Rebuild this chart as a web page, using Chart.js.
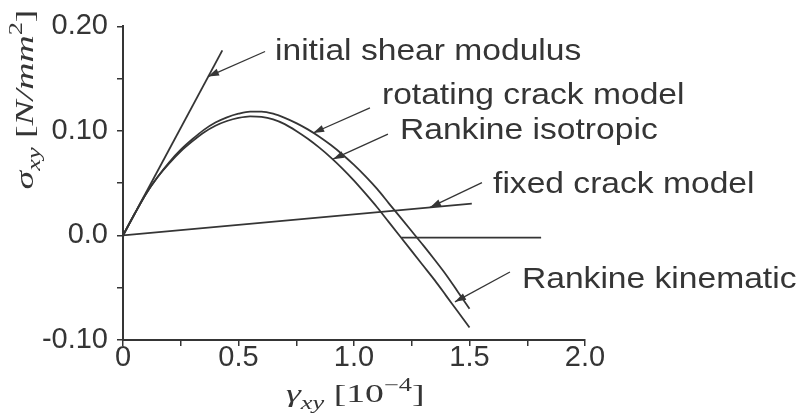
<!DOCTYPE html>
<html>
<head>
<meta charset="utf-8">
<script src="https://cdn.jsdelivr.net/npm/chart.js@4.4.1/dist/chart.umd.min.js"></script>
<style>
  html, body { margin: 0; padding: 0; background: #ffffff; }
  #wrap { width: 804px; height: 415px; }
</style>
</head>
<body>
<div id="wrap"><canvas id="c" width="804" height="415"></canvas></div>
<script>
// Shear stress sigma_xy [N/mm^2] against shear strain gamma_xy [1e-4]

// initial shear modulus (tangent at the origin)
const initialX = [0, 0.43];
const initialY = [0, 0.177];

// strain stations shared by the two softening curves
const strainX = [0, 0.05, 0.10, 0.15, 0.20, 0.25, 0.30, 0.35, 0.40, 0.45, 0.50,
                 0.55, 0.60, 0.65, 0.70, 0.75, 0.80, 0.85, 0.90, 0.95, 1.00,
                 1.05, 1.10, 1.15, 1.20, 1.25, 1.30, 1.35, 1.40, 1.45, 1.50];

// rotating crack model / Rankine kinematic (upper softening curve)
const rotatingY = [0, 0.0205, 0.040, 0.056, 0.070, 0.082, 0.092, 0.101, 0.108, 0.113, 0.1165,
                   0.1185, 0.1185, 0.1165, 0.1125, 0.1075, 0.1015, 0.0945, 0.0865, 0.0775, 0.0675,
                   0.0565, 0.0445, 0.031, 0.0175, 0.004, -0.0095, -0.0235, -0.038, -0.054, -0.070];

// Rankine isotropic (lower softening curve)
const isotropicY = [0, 0.0205, 0.040, 0.056, 0.069, 0.0805, 0.090, 0.0985, 0.105, 0.1095, 0.1125,
                    0.114, 0.1135, 0.111, 0.1065, 0.100, 0.0925, 0.084, 0.0745, 0.064, 0.0525,
                    0.040, 0.027, 0.013, -0.001, -0.015, -0.029, -0.043, -0.058, -0.073, -0.088];

// fixed crack model
const fixedX = [0, 1.51];
const fixedY = [0, 0.0305];

// residual branch at zero stress
const residualX = [1.205, 1.81];
const residualY = [-0.002, -0.002];

// axis ticks
const xTickValues = [0, 0.5, 1.0, 1.5, 2.0];
const xTickLabels = ['0', '0.5', '1.0', '1.5', '2.0'];
const yTickValues = [-0.10, 0, 0.10, 0.20];
const yTickLabels = ['-0.10', '0.0', '0.10', '0.20'];

// callouts: label anchor (baseline start), arrow tail and arrow tip, in data units
const callouts = [
  { text: 'initial shear modulus', at: [0.658, 0.1676], tail: [0.615, 0.176], tip: [0.368, 0.152] },
  { text: 'rotating crack model',  at: [1.121, 0.1257], tail: [1.069, 0.122], tip: [0.823, 0.098] },
  { text: 'Rankine isotropic',     at: [1.199, 0.0924], tail: [1.147, 0.097], tip: [0.909, 0.073] },
  { text: 'fixed crack model',     at: [1.602, 0.041],  tail: [1.554, 0.0505], tip: [1.329, 0.0268] },
  { text: 'Rankine kinematic',     at: [1.727, -0.0505], tail: [1.675, -0.035], tip: [1.437, -0.0635] }
];

const INK = '#353535';
const SANS = '"Liberation Sans", Arial, Helvetica, sans-serif';
const SERIF = '"Liberation Serif", "Times New Roman", serif';

function pairs(xs, ys) { return xs.map((x, i) => ({ x: x, y: ys[i] })); }
function series(xs, ys, smooth) {
  return {
    data: pairs(xs, ys),
    borderColor: INK,
    borderWidth: 1.8,
    pointRadius: 0,
    fill: false,
    cubicInterpolationMode: smooth ? 'monotone' : 'default',
    tension: 0
  };
}
function labelFor(values, labels, v) {
  const i = values.findIndex(t => Math.abs(t - v) < 1e-9);
  return i >= 0 ? labels[i] : '';
}

// draws a run of text pieces (italic / sub / sup) along +x from the origin, baseline at 0
function drawRuns(ctx, runs, size, stretch) {
  let x = 0;
  ctx.save();
  ctx.scale(stretch, 1);
  for (const r of runs) {
    const s = (r.sub || r.sup) ? size * 0.7 : size;
    ctx.font = (r.italic ? 'italic ' : '') + s + 'px ' + SERIF;
    const dy = r.sub ? size * 0.25 : (r.sup ? -size * 0.42 : 0);
    ctx.fillText(r.t, x, dy);
    x += ctx.measureText(r.t).width;
  }
  ctx.restore();
  return x * stretch;
}

const annotate = {
  id: 'annotate',
  afterDatasetsDraw(chart) {
    const ctx = chart.ctx;
    const xs = chart.scales.x, ys = chart.scales.y;
    const area = chart.chartArea;
    const P = (p) => [xs.getPixelForValue(p[0]), ys.getPixelForValue(p[1])];

    ctx.save();
    ctx.fillStyle = INK;
    ctx.strokeStyle = INK;
    ctx.textBaseline = 'alphabetic';
    ctx.textAlign = 'left';

    for (const c of callouts) {
      const [tx, ty] = P(c.tail);
      const [hx, hy] = P(c.tip);
      // arrow shaft
      ctx.lineWidth = 1.3;
      ctx.beginPath();
      ctx.moveTo(tx, ty);
      ctx.lineTo(hx, hy);
      ctx.stroke();
      // arrow head
      const ang = Math.atan2(hy - ty, hx - tx);
      const L = 11, W = 3.6;
      ctx.beginPath();
      ctx.moveTo(hx, hy);
      ctx.lineTo(hx - L * Math.cos(ang) + W * Math.sin(ang), hy - L * Math.sin(ang) - W * Math.cos(ang));
      ctx.lineTo(hx - L * Math.cos(ang) - W * Math.sin(ang), hy - L * Math.sin(ang) + W * Math.cos(ang));
      ctx.closePath();
      ctx.fill();
      // label
      const [lx, ly] = P(c.at);
      ctx.save();
      ctx.translate(lx, ly);
      ctx.scale(1.12, 1);
      ctx.font = '30px ' + SANS;
      ctx.fillText(c.text, 0, 0);
      ctx.restore();
    }

    // x axis title: gamma_xy [10^-4]
    ctx.save();
    ctx.translate(area.left + 163, area.bottom + 62);
    drawRuns(ctx, [
      { t: 'γ', italic: true },
      { t: 'xy', italic: true, sub: true },
      { t: ' [10' },
      { t: '−4', sup: true },
      { t: ']' }
    ], 26, 1.45);
    ctx.restore();

    // y axis title: sigma_xy [N/mm^2], reading upwards
    ctx.save();
    ctx.translate(area.left - 90, area.top + 163);
    ctx.rotate(-Math.PI / 2);
    drawRuns(ctx, [
      { t: 'σ', italic: true },
      { t: 'xy', italic: true, sub: true },
      { t: ' [' },
      { t: 'N/mm', italic: true },
      { t: '2', sup: true },
      { t: ']' }
    ], 26, 1.45);
    ctx.restore();

    ctx.restore();
  }
};

new Chart(document.getElementById('c'), {
  type: 'line',
  data: {
    datasets: [
      series(initialX, initialY, false),
      series(strainX, rotatingY, true),
      series(strainX, isotropicY, true),
      series(fixedX, fixedY, false),
      series(residualX, residualY, false)
    ]
  },
  options: {
    responsive: false,
    animation: false,
    devicePixelRatio: 1,
    layout: { padding: { top: 25, right: 219, left: 0, bottom: 0 } },
    plugins: { legend: { display: false }, tooltip: { enabled: false } },
    scales: {
      x: {
        type: 'linear',
        position: 'bottom',
        min: 0, max: 2,
        afterFit(s) { s.height = 75; },
        border: { display: true, color: INK, width: 2 },
        grid: { display: true, drawOnChartArea: false, drawTicks: true, tickLength: 6, color: INK, lineWidth: 1.5 },
        ticks: {
          stepSize: 0.25, autoSkip: false, maxRotation: 0, minRotation: 0,
          padding: -3, color: INK,
          font: { family: SANS, size: 29, lineHeight: 1 },
          callback: (v) => labelFor(xTickValues, xTickLabels, v)
        }
      },
      y: {
        type: 'linear',
        position: 'left',
        min: -0.1, max: 0.2,
        afterFit(s) { s.width = 123; },
        border: { display: true, color: INK, width: 2 },
        grid: { display: true, drawOnChartArea: false, drawTicks: true, tickLength: 6, color: INK, lineWidth: 1.5 },
        ticks: {
          stepSize: 0.05, autoSkip: false,
          padding: 9, color: INK,
          font: { family: SANS, size: 29 },
          callback: (v) => labelFor(yTickValues, yTickLabels, v)
        }
      }
    }
  },
  plugins: [annotate]
});
</script>
</body>
</html>
